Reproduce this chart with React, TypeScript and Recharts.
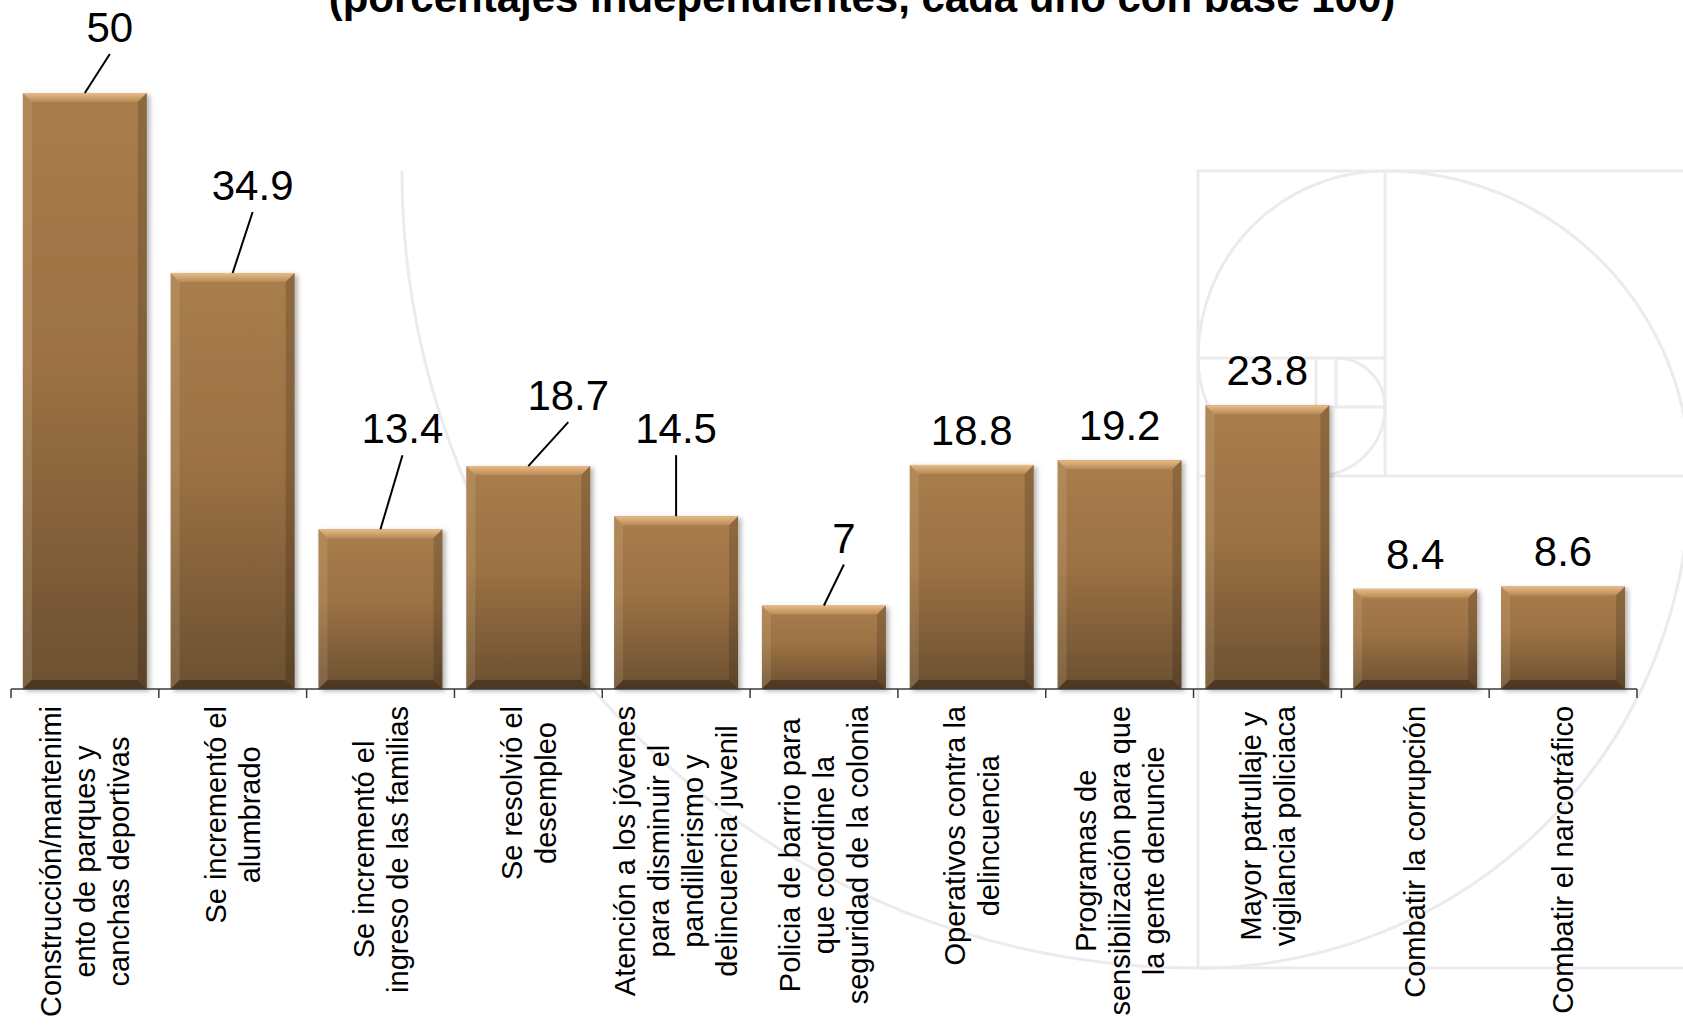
import React from "react";
import { BarChart, Bar, XAxis, YAxis, LabelList } from "recharts";

// categories, lines split with "|" as in the original labels
const categories = [
  "Construcción/mantenimi|ento de parques y|canchas deportivas",
  "Se incrementó el|alumbrado",
  "Se incrementó el|ingreso de las familias",
  "Se resolvió el|desempleo",
  "Atención a los jóvenes|para disminuir el|pandillerismo y|delincuencia juvenil",
  "Policia de barrio para|que coordine la|seguridad de la colonia",
  "Operativos contra la|delincuencia",
  "Programas de|sensibilización para que|la gente denuncie",
  "Mayor patrullaje y|vigilancia policiaca",
  "Combatir la corrupción",
  "Combatir el narcotráfico",
];

const values = [50, 34.9, 13.4, 18.7, 14.5, 7, 18.8, 19.2, 23.8, 8.4, 8.6];

// labels that were dragged away from the bar (px offset from the default spot)
const labelShift: [number, number][] = [
  [25, -31], [20, -53], [22, -66], [40, -36], [0, -53], [20, -33],
  [0, 0], [0, 0], [0, 0], [0, 0], [0, 0],
];

const data = categories.map((name, i) => ({ name, value: values[i] }));

const W = 1683;
const H = 1026;
const MARGIN = { top: 93, right: 46, left: 11, bottom: 0 };
const AXIS_H = 337;
const BAND = (W - MARGIN.left - MARGIN.right) / categories.length;
const FONT = '"Liberation Sans", Arial, sans-serif';
const TICK_FS = 29;
const LINE_H = 34;

let ctx: CanvasRenderingContext2D | null = null;
function measure(s: string) {
  if (!ctx) ctx = document.createElement("canvas").getContext("2d");
  if (!ctx) return s.length * TICK_FS * 0.5;
  ctx.font = `${TICK_FS}px "Liberation Sans"`;
  return ctx.measureText(s).width;
}

function CategoryTick(props: any) {
  const { x, y, payload, index } = props;
  const lines: string[] = String(payload.value).split("|");
  const longest = Math.max(...lines.map(measure));
  const isLast = index === categories.length - 1;
  return (
    <g>
      <line x1={x - BAND / 2} y1={y} x2={x - BAND / 2} y2={y + 9} stroke="#3a3a3a" strokeWidth={1.5} />
      {isLast && <line x1={x + BAND / 2} y1={y} x2={x + BAND / 2} y2={y + 9} stroke="#3a3a3a" strokeWidth={1.5} />}
      <g transform={`translate(${x},${y + 17}) rotate(-90)`}>
        {lines.map((ln, i) => (
          <text
            key={i}
            x={-longest / 2}
            y={(i - (lines.length - 1) / 2) * LINE_H + TICK_FS * 0.35}
            textAnchor="middle"
            fontSize={TICK_FS}
            fontFamily={FONT}
            fill="#000"
          >
            {ln}
          </text>
        ))}
      </g>
    </g>
  );
}

function ValueLabel(props: any) {
  const { x, y, width, value } = props;
  let index = props.index;
  if (index == null) index = values.indexOf(Number(value));
  const [dx, dy] = labelShift[index] || [0, 0];
  const cx = x + width / 2;
  const lx = cx + dx;
  const ly = y - 35 + dy;
  return (
    <g>
      {(dx !== 0 || dy !== 0) && (
        <line x1={lx} y1={ly + 27} x2={cx} y2={y} stroke="#000" strokeWidth={2} />
      )}
      <text x={lx} y={ly + 15} textAnchor="middle" fontSize={42} fontFamily={FONT} fill="#000">
        {value}
      </text>
    </g>
  );
}

function BevelBar(props: any) {
  const { x, y, width: w, height: h } = props;
  if (!h || h <= 0) return null;
  const b = Math.min(9, h / 2, w / 2);
  return (
    <g>
      <rect x={x} y={y} width={w} height={h} fill="url(#barFace)" filter="url(#barShadow)" />
      <polygon points={`${x},${y} ${x + w},${y} ${x + w - b},${y + b} ${x + b},${y + b}`} fill="url(#bevelTop)" />
      <polygon points={`${x},${y} ${x + b},${y + b} ${x + b},${y + h - b} ${x},${y + h}`} fill="rgba(255,235,200,0.12)" />
      <polygon points={`${x + w},${y} ${x + w - b},${y + b} ${x + w - b},${y + h - b} ${x + w},${y + h}`} fill="rgba(0,0,0,0.16)" />
      <polygon points={`${x},${y + h} ${x + b},${y + h - b} ${x + w - b},${y + h - b} ${x + w},${y + h}`} fill="rgba(0,0,0,0.3)" />
    </g>
  );
}

function Watermark() {
  const s = { fill: "none", stroke: "#ebebee", strokeWidth: 3 };
  return (
    <svg width={W} height={H} style={{ position: "absolute", left: 0, top: 0 }}>
      <path d="M 402 171 A 796 797 0 0 0 1198 968" {...s} />
      <path d="M 1198 968 A 492 492 0 0 0 1690 476" {...s} />
      <path d="M 1690 476 A 305 305 0 0 0 1385 171" {...s} />
      <path d="M 1385 171 A 187 187 0 0 0 1198 358" {...s} />
      <path d="M 1198 358 A 118 118 0 0 0 1316 476" {...s} />
      <path d="M 1316 476 A 69 69 0 0 0 1385 407" {...s} />
      <path d="M 1385 407 A 49 49 0 0 0 1336 358" {...s} />
      <rect x={1198} y={171} width={492} height={797} {...s} />
      <line x1={1198} y1={476} x2={1690} y2={476} {...s} />
      <line x1={1385} y1={171} x2={1385} y2={476} {...s} />
      <line x1={1198} y1={358} x2={1385} y2={358} {...s} />
      <line x1={1316} y1={358} x2={1316} y2={476} {...s} />
      <line x1={1316} y1={407} x2={1385} y2={407} {...s} />
      <line x1={1336} y1={358} x2={1336} y2={407} {...s} />
      <text x={862} y={12} textAnchor="middle" fontSize={42} fontWeight="bold" fontFamily={FONT} fill="#000">
        (porcentajes independientes, cada uno con base 100)
      </text>
    </svg>
  );
}

export default function App() {
  return (
    <div style={{ position: "relative", width: W, height: H, background: "#fff", overflow: "hidden" }}>
      <style>{"body{margin:0}"}</style>
      <Watermark />
      <div style={{ position: "absolute", left: 0, top: 0 }}>
        <BarChart width={W} height={H} data={data} margin={MARGIN} barCategoryGap="8%">
          <defs>
            <linearGradient id="barFace" x1="0" y1="0" x2="0" y2="1">
              <stop offset="0%" stopColor="#a97d4c" />
              <stop offset="45%" stopColor="#9c7244" />
              <stop offset="100%" stopColor="#6c5031" />
            </linearGradient>
            <linearGradient id="bevelTop" x1="0" y1="0" x2="0" y2="1">
              <stop offset="0%" stopColor="#e8bc86" />
              <stop offset="100%" stopColor="#b88a57" />
            </linearGradient>
            <filter id="barShadow" x="-10%" y="-10%" width="125%" height="125%">
              <feDropShadow dx="3" dy="2" stdDeviation="2.5" floodColor="#000" floodOpacity="0.3" />
            </filter>
          </defs>
          <XAxis
            dataKey="name"
            interval={0}
            height={AXIS_H}
            tickSize={0}
            tickMargin={0}
            axisLine={{ stroke: "#3a3a3a", strokeWidth: 1.5 }}
            tick={<CategoryTick />}
          />
          <YAxis hide domain={[0, 50]} />
          <Bar dataKey="value" shape={<BevelBar />} isAnimationActive={false}>
            <LabelList dataKey="value" content={<ValueLabel />} />
          </Bar>
        </BarChart>
      </div>
    </div>
  );
}
